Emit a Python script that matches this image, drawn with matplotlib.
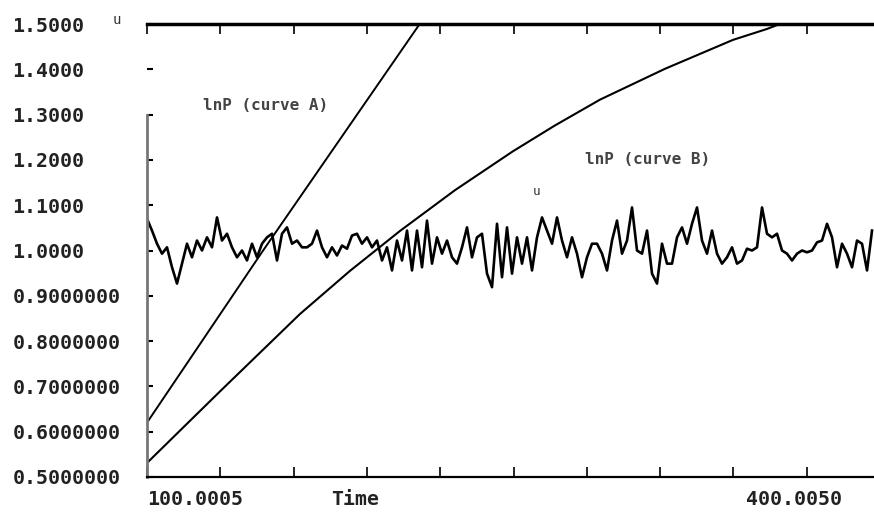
import numpy as np
import matplotlib
matplotlib.use('Agg')
import matplotlib.pyplot as plt

# noisy u signal, read every ~5 px across the plot
u_values = [
    1.070, 1.044, 1.015, 0.993, 1.007, 0.963, 0.927, 0.971, 1.015, 0.985,
    1.022, 1.000, 1.029, 1.007, 1.073, 1.022, 1.037, 1.007, 0.985, 1.000,
    0.978, 1.015, 0.985, 1.015, 1.029, 1.037, 0.978, 1.037, 1.051, 1.015,
    1.022, 1.007, 1.007, 1.015, 1.044, 1.007, 0.985,
    1.007, 0.989, 1.011, 1.004, 1.033, 1.037, 1.015, 1.029, 1.007, 1.022,
    0.978, 1.007, 0.956, 1.022, 0.978, 1.044, 0.956, 1.044, 0.963, 1.066,
    0.971, 1.029, 0.993, 1.022, 0.985, 0.971, 1.007, 1.051, 0.985, 1.029,
    1.037, 0.949, 0.919, 1.059, 0.941, 1.051, 0.949,
    1.029, 0.971, 1.029, 0.956, 1.029, 1.073, 1.044, 1.015, 1.073, 1.022,
    0.985, 1.029, 0.993, 0.941, 0.985, 1.015, 1.015, 0.993, 0.956, 1.022,
    1.066, 0.993, 1.022, 1.095, 1.000, 0.993, 1.044, 0.949, 0.927, 1.015,
    0.971, 0.971, 1.029, 1.051, 1.015, 1.059,
    1.095, 1.022, 0.993, 1.044, 0.993, 0.971, 0.985, 1.007, 0.971, 0.978,
    1.004, 1.000, 1.007, 1.095, 1.037, 1.029, 1.037, 1.000, 0.993, 0.978,
    0.993, 1.000, 0.996, 1.000, 1.018, 1.022, 1.059, 1.029, 0.963, 1.015,
    0.993, 0.963, 1.022, 1.015, 0.956, 1.044,
]
u_time = np.linspace(100, 429.7, len(u_values))

curveA_time = [100, 152.8, 224]
curveA = [0.62, 1.0, 1.5]

curveB_time = [100, 133.2, 169.6, 192.3, 215.0, 240.0, 266.4, 285.5, 306.0, 335.5, 366.5, 381.9, 387.8]
curveB = [0.531, 0.689, 0.860, 0.955, 1.043, 1.133, 1.219, 1.276, 1.333, 1.401, 1.465, 1.489, 1.5]

yticks = [1.5, 1.4, 1.3, 1.2, 1.1, 1.0, 0.9, 0.8, 0.7, 0.6, 0.5]
ylabels = ['1.5000', '1.4000', '1.3000', '1.2000', '1.1000', '1.0000',
           '0.9000000', '0.8000000', '0.7000000', '0.6000000', '0.5000000']
xticks = np.linspace(100, 400, 10)

mono = 'DejaVu Sans Mono'

fig = plt.figure(figsize=(8.74, 5.16), dpi=100)
ax = fig.add_axes([147 / 874, 1 - 477 / 516, 1 - 147 / 874, (477 - 24) / 516])

ax.plot(u_time, u_values, color='black', lw=1.9)
ax.plot(curveA_time, curveA, color='black', lw=1.4)
ax.plot(curveB_time, curveB, color='black', lw=1.5)

ax.set_xlim(100, 430.6)
ax.set_ylim(0.5, 1.5)

ax.set_yticks(yticks)
ax.set_yticklabels(ylabels, fontfamily=mono, fontweight='bold', fontsize=14.3, color='#222222')
for lab in ax.get_yticklabels():
    lab.set_horizontalalignment('left')
ax.tick_params(axis='y', direction='in', length=4, width=1.5, pad=97)

ax.set_xticks(xticks)
ax.set_xticklabels([])
ax.tick_params(axis='x', direction='in', length=7, width=1.2, top=True)

ax.spines['right'].set_visible(False)
ax.spines['left'].set_bounds(0.5, 1.3)
ax.spines['left'].set_color('#777777')
ax.spines['left'].set_linewidth(2)
ax.spines['top'].set_linewidth(2.5)
ax.spines['bottom'].set_linewidth(1.6)

# bottom labels
ax.text(100, -0.05, '100.0005', transform=ax.get_xaxis_transform(), ha='left', va='center',
        fontfamily=mono, fontweight='bold', fontsize=14.3, color='#222222')
ax.text(194.6, -0.05, 'Time', transform=ax.get_xaxis_transform(), ha='center', va='center',
        fontfamily=mono, fontweight='bold', fontsize=14.3, color='#222222')
ax.text(394.2, -0.05, '400.0050', transform=ax.get_xaxis_transform(), ha='center', va='center',
        fontfamily=mono, fontweight='bold', fontsize=14.3, color='#222222')

ax.text(125.5, 1.32, 'lnP (curve A)', ha='left', va='center', fontfamily=mono, fontsize=11.5,
        fontweight='bold', color='#444444')
ax.text(299.2, 1.20, 'lnP (curve B)', ha='left', va='center', fontfamily=mono, fontsize=11.5,
        fontweight='bold', color='#444444')
ax.text(277.3, 1.13, 'u', ha='center', va='center', fontfamily=mono, fontsize=9, color='#333333')
fig.text(117 / 874, 1 - 20 / 516, 'u', ha='center', va='center', fontfamily=mono, fontsize=10, color='#333333')

fig.savefig('out.png', dpi=100)
